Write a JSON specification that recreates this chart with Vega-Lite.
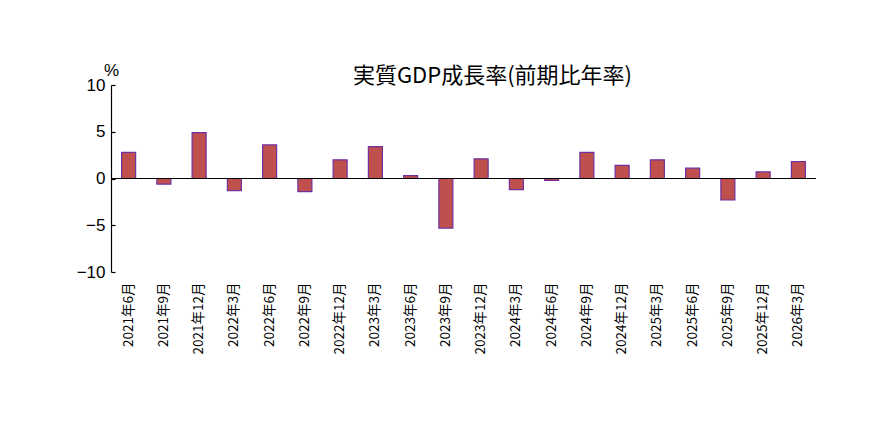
{
  "$schema": "https://vega.github.io/schema/vega-lite/v6.json",
  "width": 705,
  "height": 187,
  "autosize": {"type": "none"},
  "padding": {"left": 111, "top": 85, "right": 74, "bottom": 162},
  "background": "white",
  "view": {"stroke": null},
  "title": {
    "text": "実質GDP成長率(前期比年率)",
    "font": "Noto Sans CJK JP",
    "fontSize": 22,
    "fontWeight": "normal",
    "color": "black",
    "anchor": "middle",
    "dx": 29,
    "offset": -27
  },
  "data": {
    "values": [
      {"period": "2021年6月", "rate": 2.8},
      {"period": "2021年9月", "rate": -0.6},
      {"period": "2021年12月", "rate": 4.9},
      {"period": "2022年3月", "rate": -1.3},
      {"period": "2022年6月", "rate": 3.6},
      {"period": "2022年9月", "rate": -1.4},
      {"period": "2022年12月", "rate": 2.0},
      {"period": "2023年3月", "rate": 3.4},
      {"period": "2023年6月", "rate": 0.3},
      {"period": "2023年9月", "rate": -5.3},
      {"period": "2023年12月", "rate": 2.1},
      {"period": "2024年3月", "rate": -1.2},
      {"period": "2024年6月", "rate": -0.2},
      {"period": "2024年9月", "rate": 2.8},
      {"period": "2024年12月", "rate": 1.4},
      {"period": "2025年3月", "rate": 2.0},
      {"period": "2025年6月", "rate": 1.1},
      {"period": "2025年9月", "rate": -2.3},
      {"period": "2025年12月", "rate": 0.7},
      {"period": "2026年3月", "rate": 1.8}
    ]
  },
  "layer": [
    {
      "mark": {"type": "bar", "width": 14, "color": "#c0504d", "stroke": "#7030a0", "strokeWidth": 1.2},
      "encoding": {
        "x": {
          "field": "period",
          "type": "ordinal",
          "sort": null,
          "scale": {"paddingInner": 0, "paddingOuter": 0},
          "axis": {
            "title": null,
            "domain": false,
            "ticks": false,
            "labelAngle": -90,
            "labelAlign": "right",
            "labelBaseline": "middle",
            "labelFont": "Noto Sans CJK JP",
            "labelFontSize": 13.5,
            "labelColor": "black",
            "labelPadding": 10
          }
        },
        "y": {
          "field": "rate",
          "type": "quantitative",
          "scale": {"domain": [-10, 10], "nice": false},
          "axis": {
            "title": "%",
            "titleAngle": 0,
            "titleX": 0,
            "titleY": -6,
            "titleAlign": "center",
            "titleBaseline": "bottom",
            "titleFont": "Liberation Sans",
            "titleFontSize": 17,
            "titleFontWeight": "normal",
            "titleColor": "black",
            "values": [-10, -5, 0, 5, 10],
            "grid": false,
            "domainColor": "black",
            "domainWidth": 1.2,
            "tickColor": "black",
            "tickSize": -4,
            "tickWidth": 1.2,
            "labelFont": "Liberation Sans",
            "labelFontSize": 17,
            "labelColor": "black",
            "labelPadding": 10
          }
        }
      }
    },
    {
      "mark": {"type": "rule", "color": "black", "strokeWidth": 1},
      "encoding": {"y": {"datum": 0}}
    }
  ]
}
